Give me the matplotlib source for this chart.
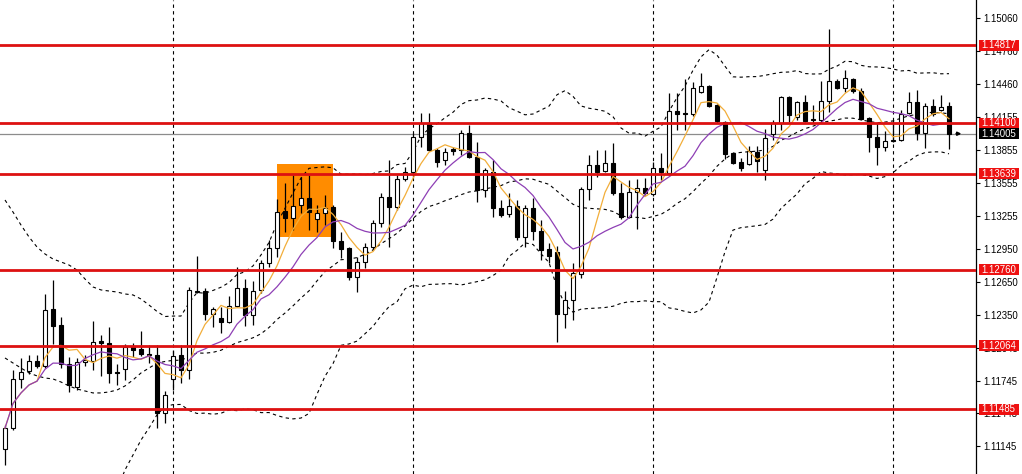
import numpy as np
import pandas as pd
import matplotlib
matplotlib.use("Agg")
import matplotlib.pyplot as plt
from matplotlib.patches import Rectangle
import matplotlib.transforms as mtransforms

opens = [1.11119,1.11311,1.11760,1.11833,1.11924,1.11879,1.12400,1.12254,1.11897,1.11686,
1.11915,1.11924,1.12107,1.12089,1.11825,1.11851,1.12053,1.12035,1.11989,1.11979,
1.11448,1.11760,1.11979,1.11842,1.12565,1.12565,1.12355,1.12318,1.12282,1.12428,
1.12593,1.12346,1.12575,1.12822,1.12959,1.13297,1.13233,1.13353,1.13417,1.13224,
1.13279,1.13334,1.13023,1.12959,1.12693,1.12831,1.12968,1.13188,1.13426,1.13334,
1.13591,1.13655,1.13975,1.14103,1.13856,1.13764,1.13865,1.13856,1.14011,1.13792,
1.13490,1.13655,1.13325,1.13270,1.13344,1.13060,1.13325,1.13114,1.12950,1.12922,
1.12355,1.12483,1.12721,1.13499,1.13719,1.13664,1.13737,1.13462,1.13243,1.13471,
1.13508,1.13453,1.13691,1.13646,1.14213,1.14195,1.14185,1.14387,1.14442,1.14268,
1.14112,1.13828,1.13746,1.13728,1.13838,1.13673,1.14002,1.14103,1.14341,1.14158,
1.14295,1.14131,1.14131,1.14304,1.14487,1.14423,1.14506,1.14396,1.14149,1.13975,
1.13883,1.13938,1.13947,1.14195,1.14295,1.14011,1.14259,1.14222,1.14259]

highs = [1.11339,1.11842,1.11952,1.11979,1.11979,1.12538,1.12666,1.12327,1.11961,1.11952,
1.11979,1.12291,1.12162,1.12236,1.11897,1.12080,1.12089,1.12199,1.12071,1.12071,
1.11650,1.12025,1.12071,1.12602,1.12886,1.12593,1.12419,1.12419,1.12519,1.12785,
1.12675,1.12657,1.12849,1.13032,1.13408,1.13554,1.13627,1.13609,1.13627,1.13353,
1.13444,1.13353,1.13105,1.12968,1.12877,1.13005,1.13215,1.13462,1.13764,1.13627,
1.13700,1.14011,1.14195,1.14195,1.13874,1.13874,1.13883,1.14039,1.14085,1.13929,
1.13691,1.13764,1.13398,1.13462,1.13398,1.13353,1.13417,1.13215,1.13005,1.12977,
1.12565,1.12822,1.13517,1.13810,1.13856,1.13856,1.13920,1.13554,1.13581,1.13591,
1.13600,1.13746,1.13828,1.14378,1.14378,1.14506,1.14478,1.14561,1.14451,1.14277,
1.14121,1.13838,1.13783,1.13893,1.13893,1.14048,1.14131,1.14350,1.14350,1.14304,
1.14359,1.14268,1.14487,1.14964,1.14506,1.14588,1.14515,1.14423,1.14158,1.14103,
1.14030,1.14131,1.14222,1.14387,1.14405,1.14286,1.14323,1.14359,1.14295]

lows = [1.10972,1.11293,1.11677,1.11806,1.11860,1.11860,1.12080,1.11860,1.11641,1.11659,
1.11879,1.11842,1.11788,1.11723,1.11705,1.11751,1.11961,1.11970,1.11906,1.11311,
1.11357,1.11659,1.11723,1.11760,1.12547,1.12300,1.12236,1.12181,1.12273,1.12419,
1.12245,1.12254,1.12547,1.12785,1.12877,1.13105,1.13124,1.13279,1.13124,1.13105,
1.13169,1.12959,1.12868,1.12666,1.12556,1.12776,1.12941,1.13151,1.12968,1.13307,
1.13572,1.13609,1.13883,1.13847,1.13700,1.13719,1.13810,1.13810,1.13783,1.13380,
1.13426,1.13243,1.13243,1.13243,1.13032,1.12968,1.13032,1.12849,1.12822,1.12098,
1.12226,1.12300,1.12684,1.13398,1.13609,1.13655,1.13444,1.13224,1.13233,1.13133,
1.13444,1.13435,1.13581,1.13627,1.14039,1.14039,1.14167,1.14378,1.14250,1.14103,
1.13774,1.13728,1.13664,1.13719,1.13655,1.13581,1.13947,1.14039,1.14112,1.14131,
1.14112,1.14103,1.14103,1.14204,1.14414,1.14387,1.14378,1.14131,1.13838,1.13719,
1.13847,1.13929,1.13938,1.14185,1.13947,1.13874,1.14167,1.14213,1.13865]

closes = [1.11311,1.11760,1.11825,1.11924,1.11879,1.12391,1.12245,1.11897,1.11705,1.11915,
1.11934,1.12098,1.12089,1.11815,1.11815,1.12053,1.12025,1.11989,1.11979,1.11448,
1.11613,1.11970,1.11842,1.12575,1.12556,1.12355,1.12400,1.12282,1.12428,1.12593,
1.12346,1.12565,1.12822,1.12959,1.13288,1.13233,1.13344,1.13417,1.13288,1.13279,
1.13325,1.13023,1.12950,1.12693,1.12831,1.12968,1.13188,1.13426,1.13334,1.13591,
1.13655,1.13975,1.14103,1.13856,1.13746,1.13838,1.13847,1.14011,1.13792,1.13490,
1.13673,1.13325,1.13261,1.13344,1.13060,1.13325,1.13114,1.12941,1.12886,1.12355,
1.12483,1.12730,1.13499,1.13719,1.13655,1.13737,1.13462,1.13243,1.13471,1.13508,
1.13462,1.13691,1.13655,1.14213,1.14185,1.14185,1.14423,1.14442,1.14259,1.14121,
1.13819,1.13737,1.13691,1.13847,1.13755,1.13966,1.14103,1.14341,1.14176,1.14295,
1.14121,1.14140,1.14304,1.14487,1.14423,1.14515,1.14396,1.14140,1.13975,1.13883,
1.13938,1.13947,1.14185,1.14295,1.14011,1.14259,1.14185,1.14250,1.14005]

# Bollinger band values for the first bars (their 20-bar
# history lies left of the visible window)
bb_upper_head = [1.13398,1.13288,1.13169,1.13060,1.12968,1.12904,1.12858,1.12831,1.12803,1.12757,
                 1.12675,1.12602,1.12575,1.12565,1.12556,1.12538,1.12529,1.12492,1.12437]
bb_middle_head = [1.11952,1.11906,1.11860,1.11815,1.11788,1.11769,1.11760,1.11732,1.11696,1.11668,
                  1.11650,1.11632,1.11632,1.11641,1.11659,1.11696,1.11751,1.11815,1.11860]
bb_lower_head = [None,None,None,None,None,None,None,None,None,None,
                 None,None,None,None,1.10744,1.10927,1.11064,1.11201,1.11311]

levels = [1.14817, 1.14100, 1.13639, 1.12760, 1.12064, 1.11485]
bid_price = 1.14005
yticks = [1.15060, 1.14760, 1.14460, 1.14155, 1.13855, 1.13555, 1.13255,
          1.12950, 1.12650, 1.12350, 1.12045, 1.11745, 1.11445, 1.11145]
grid_bars = [21, 51, 81, 111]
zone_bars = (34, 41)
zone_prices = (1.13060, 1.13728)

FONT = "Liberation Sans"
FS = 6.9

fig = plt.figure(figsize=(10.22, 4.74), dpi=100)
ax = fig.add_axes([0, 0, 976 / 1022, 1])
ax.set_facecolor("white")

o = np.array(opens); h = np.array(highs); l = np.array(lows); c = np.array(closes)
n = len(c)
x = np.arange(n)

ax.set_xlim(-0.625, 121.375)
ax.set_ylim(1.10890, 1.15229)

ax.add_patch(Rectangle((zone_bars[0], zone_prices[0]), zone_bars[1] - zone_bars[0],
                       zone_prices[1] - zone_prices[0], facecolor="#FF8C00",
                       edgecolor="none", zorder=1))

for g in grid_bars:
    ax.axvline(g, color="black", lw=0.8, ls=(0, (3, 3)), zorder=1.5)

ax.axhline(bid_price, color="#8c8c8c", lw=0.9, zorder=1.6)

cs = pd.Series(c)
ma5 = cs.rolling(5, min_periods=1).mean()
ma10 = cs.rolling(10, min_periods=1).mean()
mid = cs.rolling(20, min_periods=20).mean()
sd = cs.rolling(20, min_periods=20).std(ddof=0)
upper = mid + 2 * sd
lower = mid - 2 * sd
k = len(bb_middle_head)
mid.iloc[:k] = bb_middle_head
upper.iloc[:k] = bb_upper_head
lower.iloc[:k] = [np.nan if v is None else v for v in bb_lower_head]
for band in (mid, upper, lower):
    ax.plot(x, band, color="black", lw=0.8, ls=(0, (3, 3)), zorder=2)

ax.vlines(x, l, h, color="black", lw=0.9, zorder=3)
bw = 0.55
for i in range(n):
    lo, hi = min(o[i], c[i]), max(o[i], c[i])
    fc = "white" if c[i] >= o[i] else "black"
    if hi - lo < 0.00003:
        ax.hlines((lo + hi) / 2, i - bw / 2, i + bw / 2, color="black", lw=0.9, zorder=4)
    else:
        ax.add_patch(Rectangle((i - bw / 2, lo), bw, hi - lo, facecolor=fc,
                               edgecolor="black", lw=0.8, zorder=4))

ax.plot(x, ma5, color="#F2AE3A", lw=0.9, zorder=5)
ax.plot(x, ma10, color="#8E3FB5", lw=0.9, zorder=5)

for lv in levels:
    ax.axhline(lv, color="#DD1111", lw=2.0, zorder=6)

ax.annotate("", xy=(n + 0.55, bid_price), xytext=(n - 0.1, bid_price),
            arrowprops=dict(arrowstyle="-|>", color="black", lw=1.2,
                            mutation_scale=5, shrinkA=0, shrinkB=0), zorder=6)

for s in ("left", "top", "bottom"):
    ax.spines[s].set_visible(False)
ax.spines["right"].set_color("black")
ax.spines["right"].set_linewidth(0.9)
ax.set_xticks([])
ax.yaxis.tick_right()
ax.set_yticks(yticks)
ax.set_yticklabels([f"{t:.5f}" for t in yticks], fontfamily=FONT, fontsize=FS)
ax.tick_params(axis="y", length=3, width=0.8, pad=2, colors="black")

tr = mtransforms.blended_transform_factory(fig.transFigure, ax.transData)
box_h = 11 / 10924
for lv, col in [(v, "#EE1111") for v in levels] + [(bid_price, "black")]:
    fig.patches.append(Rectangle((979 / 1022, lv - box_h / 2), 40 / 1022, box_h,
                                 transform=tr, facecolor=col, edgecolor="none",
                                 zorder=10))
    fig.text(981.5 / 1022, lv, f"{lv:.5f}", transform=tr, color="white",
             fontfamily=FONT, fontsize=FS, va="center", ha="left", zorder=11)

fig.savefig("out.png", dpi=100, facecolor="white")
